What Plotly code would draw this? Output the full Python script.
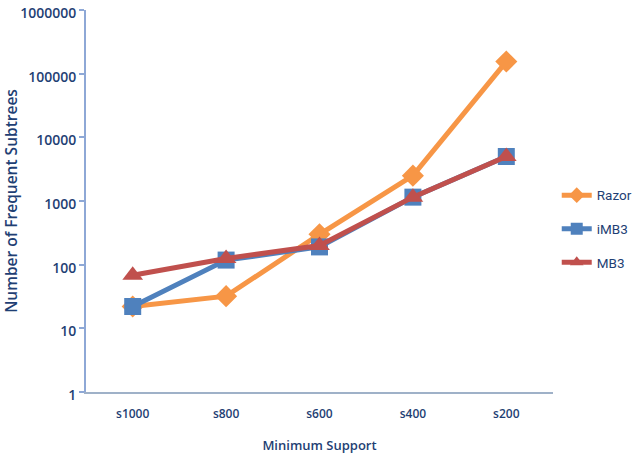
import plotly.graph_objects as go

categories = ["s1000", "s800", "s600", "s400", "s200"]
razor = [22, 32, 300, 2500, 155000]
imb3 = [22, 118, 190, 1150, 5000]
mb3 = [68, 125, 200, 1150, 5000]
y_ticks = [1, 10, 100, 1000, 10000, 100000, 1000000]

navy = "#1F3F74"
font_family = "Open Sans, Calibri, sans-serif"
legend_font = "Roboto, Open Sans, sans-serif"

series = [
    ("Razor", razor, "#F79646", "diamond", 17),
    ("iMB3", imb3, "#4F81BD", "square", 17),
    ("MB3", mb3, "#C0504D", "triangle-up", 18),
]

fig = go.Figure()
for i, (name, vals, color, sym, size) in enumerate(series):
    fig.add_trace(go.Scatter(
        x=categories, y=vals, name=name, mode="lines+markers",
        line=dict(color=color, width=5),
        marker=dict(symbol=sym, size=size, color=color),
        legendgroup=f"g{i}",
    ))

fig.update_layout(
    width=632, height=457,
    margin=dict(l=86, r=79, t=10, b=65, autoexpand=False),
    paper_bgcolor="white", plot_bgcolor="white",
    font=dict(family=font_family, color=navy, size=13),
    showlegend=True,
    legend=dict(
        x=1.008, y=0.427, xanchor="left", yanchor="middle",
        font=dict(size=13.5, color=navy, family=legend_font),
        itemsizing="constant", itemwidth=30,
        traceorder="grouped", tracegroupgap=13,
        bgcolor="rgba(0,0,0,0)",
    ),
    xaxis=dict(
        type="category", range=[-0.5, 4.5],
        showline=True, linecolor="#9FB1C8", linewidth=2,
        showgrid=False, zeroline=False, ticks="",
        ticklabelstandoff=10,
        tickfont=dict(size=12, color=navy, weight=600),
        title=dict(text="Minimum Support", font=dict(size=13, color=navy, weight=600), standoff=19),
    ),
    yaxis=dict(
        type="log", range=[-0.0005, 6.0005],
        tickvals=y_ticks, ticktext=[str(v) for v in y_ticks],
        ticklabeloverflow="allow", ticklabelshift=3,
        showline=True, linecolor="#8EA8D6", linewidth=2,
        ticks="outside", ticklen=5, tickcolor="#8EA8D6", tickwidth=2,
        showgrid=False, zeroline=False,
        tickfont=dict(size=14, color=navy, weight=600),
        title=dict(text="Number of Frequent Subtrees", font=dict(size=15.5, color=navy, weight=600), standoff=3),
    ),
)

fig.write_html("out.html")
